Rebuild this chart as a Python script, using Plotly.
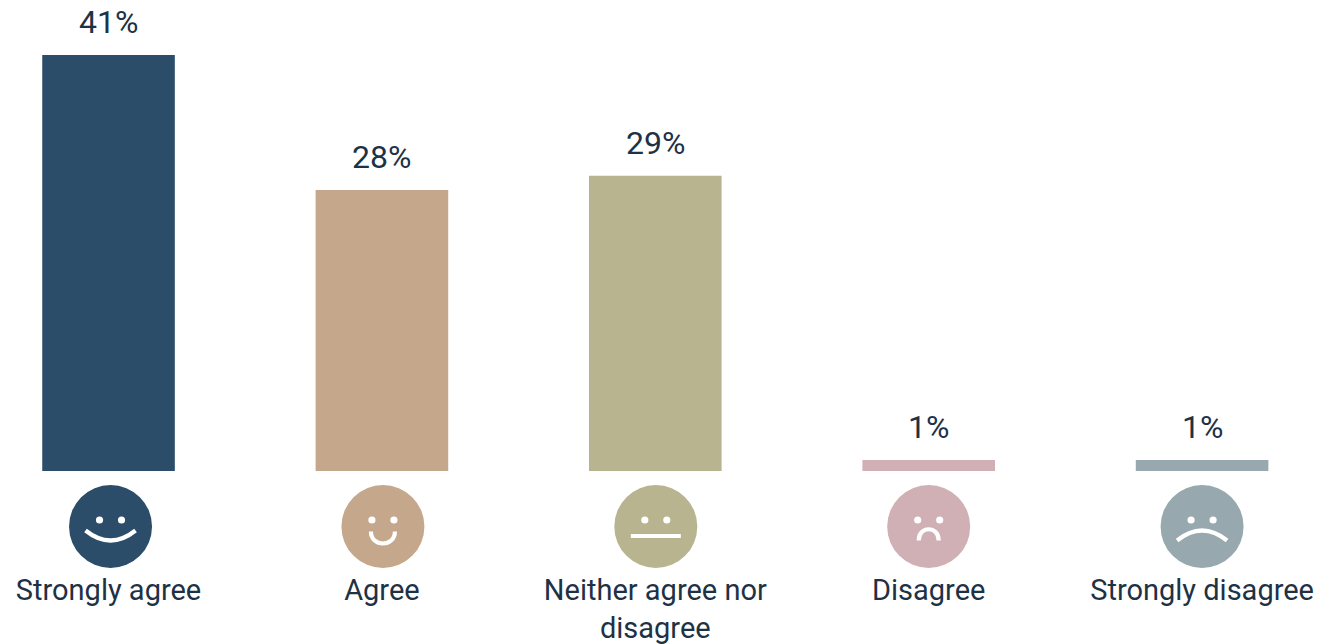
import plotly.graph_objects as go

categories = ["Strongly agree", "Agree", "Neither agree nor disagree", "Disagree", "Strongly disagree"]
tick_labels = ["Strongly agree", "Agree", "Neither agree nor<br>disagree", "Disagree", "Strongly disagree"]
bar_heights = [41, 27.7, 29.1, 1.08, 1.08]
value_labels = ["41%", "28%", "29%", "1%", "1%"]
colors = ["#2C4D69", "#C5A78C", "#B8B48F", "#D0B0B4", "#97A8AF"]
face_offsets = [2, 1, 0.5, 0, 0]
mouths = [
    "M-25,-4 Q0,-24 25,-4",
    "M-12,-5 C-12,-21 12,-21 12,-5",
    "M-25,-9.5 L25,-9.5",
    "M-10,-14 C-10,1 10,1 10,-14",
    "M-25,-14 Q0,6 25,-14",
]

W, H = 1321, 644
PLOT_H = 471
TEXT = "#1D3244"
FONT = "Roboto"

fig = go.Figure(go.Bar(x=categories, y=bar_heights, marker_color=colors, marker_line_width=0,
                       width=0.485, hoverinfo="skip"))

shapes, annotations = [], []
face_y = -55.5 / PLOT_H
for i, (cat, col, mouth, h, lab, off) in enumerate(zip(categories, colors, mouths, bar_heights, value_labels, face_offsets)):
    common = dict(xref="x", yref="paper", xsizemode="pixel", ysizemode="pixel",
                  xanchor=i + off / 273.4, yanchor=face_y)
    shapes.append(dict(type="circle", x0=-41.5, x1=41.5, y0=-41.5, y1=41.5,
                       fillcolor=col, line_width=0, **common))
    for ex in (-11, 11):
        shapes.append(dict(type="circle", x0=ex - 3.6, x1=ex + 3.6, y0=6.5 - 3.6, y1=6.5 + 3.6,
                           fillcolor="white", line_width=0, **common))
    shapes.append(dict(type="path", path=mouth, line=dict(color="white", width=4.2),
                       fillcolor="rgba(0,0,0,0)", **common))
    annotations.append(dict(x=cat, y=h, xref="x", yref="y", text=lab, showarrow=False,
                            yanchor="bottom", yshift=12, font=dict(family=FONT, size=32, color=TEXT)))

fig.update_layout(
    width=W, height=H,
    margin=dict(l=0, r=0, t=0, b=H - PLOT_H, pad=0),
    plot_bgcolor="white", paper_bgcolor="white",
    showlegend=False, shapes=shapes, annotations=annotations,
    xaxis=dict(type="category", categoryorder="array", categoryarray=categories,
               range=[-0.397, 4.435], tickmode="array", tickvals=categories, ticktext=tick_labels,
               ticks="", showgrid=False, zeroline=False, showline=False, automargin=False,
               ticklabelstandoff=99, tickangle=0, tickfont=dict(family=FONT, size=29, color=TEXT)),
    yaxis=dict(range=[0, PLOT_H / 10.146], visible=False, fixedrange=True),
)
fig.write_html("out.html", config={"displayModeBar": False},
               post_script="document.body.style.margin='0';document.body.style.overflow='hidden';")
